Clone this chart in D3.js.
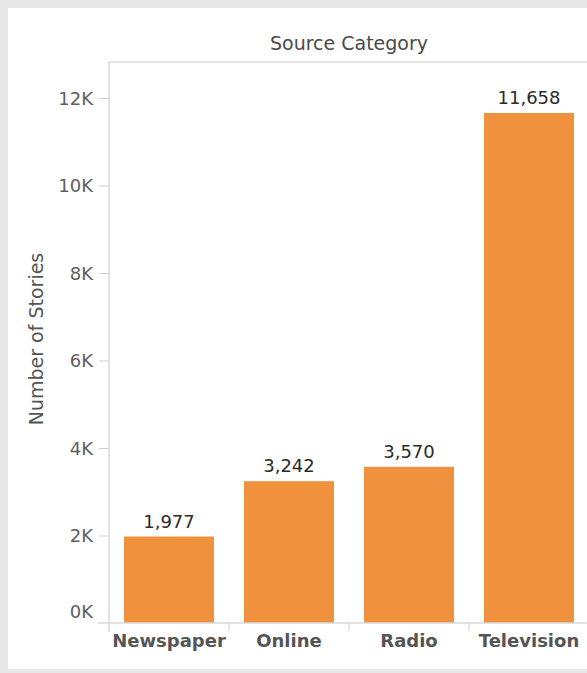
<!DOCTYPE html>
<html>
<head>
<meta charset="utf-8">
<script src="https://cdn.jsdelivr.net/npm/d3@7"></script>
<style>
  body { margin: 0; background: #fff; }
  svg { display: block; font-family: "DejaVu Sans", sans-serif; }
</style>
</head>
<body>
<div id="container"></div>
<script>
/* DATA */
const categories = ["Newspaper", "Online", "Radio", "Television"];
const stories = [1977, 3242, 3570, 11658];
const yTicks = [0, 2000, 4000, 6000, 8000, 10000, 12000];

/* CONSTANTS */
const width = 587, height = 673;
const plot = { left: 109, right: 589, top: 62, bottom: 623 };
const font = "'DejaVu Sans', sans-serif";

const svg = d3.select("#container").append("svg")
  .attr("width", width)
  .attr("height", height);

// outer frame
svg.append("rect").attr("width", width).attr("height", height).attr("fill", "#e8e8e8");
svg.append("rect").attr("x", 8).attr("y", 8).attr("width", width - 8).attr("height", 661).attr("fill", "#fff");

// scales
const xScale = d3.scaleBand()
  .domain(categories)
  .range([plot.left, plot.right])
  .paddingInner(0.25)
  .paddingOuter(0.125);

// 12K sits at y=98, 0 at the baseline
const yScale = d3.scaleLinear()
  .domain([0, 12000])
  .range([plot.bottom, 98]);

// header
svg.append("text")
  .attr("x", 349).attr("y", 50)
  .attr("text-anchor", "middle")
  .attr("font-size", "19px")
  .attr("fill", "#4a4a4a")
  .text("Source Category");

svg.append("line")
  .attr("x1", plot.left).attr("x2", width)
  .attr("y1", plot.top).attr("y2", plot.top)
  .attr("stroke", "#d9d9d9").attr("stroke-width", 1.5);

// y axis
const yAxis = svg.append("g")
  .attr("transform", `translate(${plot.left},0)`)
  .call(d3.axisLeft(yScale)
    .tickValues(yTicks)
    .tickSize(10)
    .tickPadding(6)
    .tickFormat(d => (d / 1000) + "K"));

yAxis.select(".domain").remove();
yAxis.selectAll(".tick line").attr("stroke", "#cfcfcf");
yAxis.selectAll(".tick text")
  .attr("fill", "#606060")
  .attr("font-size", "18px")
  .attr("font-family", font)
  .attr("dy", d => d === 0 ? "-6px" : "0.36em");
// the baseline covers the 0 tick
yAxis.selectAll(".tick").filter(d => d === 0).select("line").remove();

svg.append("line")
  .attr("x1", plot.left).attr("x2", plot.left)
  .attr("y1", plot.top).attr("y2", plot.bottom + 9)
  .attr("stroke", "#d9d9d9").attr("stroke-width", 1.5);

// y title
svg.append("text")
  .attr("transform", `translate(43, 339) rotate(-90)`)
  .attr("text-anchor", "middle")
  .attr("font-size", "19px")
  .attr("fill", "#555")
  .text("Number of Stories");

// bars
svg.selectAll("rect.bar")
  .data(categories)
  .join("rect")
  .attr("class", "bar")
  .attr("x", d => xScale(d))
  .attr("width", xScale.bandwidth())
  .attr("y", (d, i) => yScale(stories[i]))
  .attr("height", (d, i) => yScale(0) - yScale(stories[i]))
  .attr("fill", "#f0913d");

// value labels
svg.selectAll("text.value")
  .data(categories)
  .join("text")
  .attr("class", "value")
  .attr("x", d => xScale(d) + xScale.bandwidth() / 2)
  .attr("y", (d, i) => yScale(stories[i]) - 9)
  .attr("text-anchor", "middle")
  .attr("font-size", "18px")
  .attr("fill", "#2b2b2b")
  .text((d, i) => d3.format(",")(stories[i]));

// baseline + category dividers
svg.append("line")
  .attr("x1", 98).attr("x2", width)
  .attr("y1", plot.bottom).attr("y2", plot.bottom)
  .attr("stroke", "#d9d9d9").attr("stroke-width", 1.5);

svg.selectAll("line.divider")
  .data(categories.slice(1))
  .join("line")
  .attr("class", "divider")
  .attr("x1", d => xScale(d) - xScale.step() * 0.125)
  .attr("x2", d => xScale(d) - xScale.step() * 0.125)
  .attr("y1", plot.bottom).attr("y2", plot.bottom + 8)
  .attr("stroke", "#cfcfcf");

// category labels
svg.selectAll("text.cat")
  .data(categories)
  .join("text")
  .attr("class", "cat")
  .attr("x", d => xScale(d) + xScale.bandwidth() / 2)
  .attr("y", 647)
  .attr("text-anchor", "middle")
  .attr("font-size", "18px")
  .attr("font-weight", "bold")
  .attr("fill", "#555")
  .text(d => d);
</script>
</body>
</html>
